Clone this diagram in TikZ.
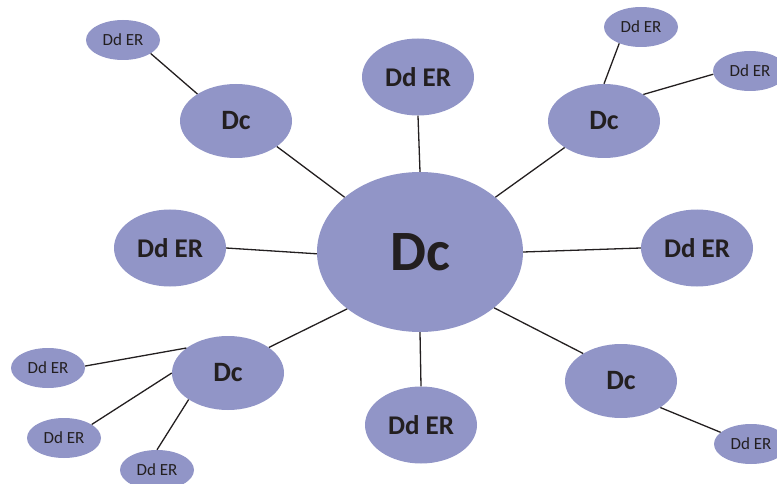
\documentclass[tikz,border=0pt]{standalone}
\usepackage{fontspec}
\setmainfont{Carlito}
\usetikzlibrary{shapes.geometric}
\definecolor{bubble}{RGB}{145,149,199}
\definecolor{ink}{RGB}{35,31,32}
\tikzset{
  bub/.style={ellipse, fill=bubble, draw=none, inner sep=0pt, text=ink},
  big/.style={bub, minimum width=206pt, minimum height=160pt, font=\bfseries\fontsize{57}{60}\selectfont},
  mid/.style={bub, minimum width=112pt, minimum height=74pt, font=\bfseries\fontsize{28}{30}\selectfont},
  midl/.style={bub, minimum width=112pt, minimum height=77pt, font=\bfseries\fontsize{27}{30}\selectfont},
  sml/.style={bub, minimum width=74pt, minimum height=40pt, font=\fontsize{17}{19}\selectfont},
  link/.style={draw=ink, line width=1.3pt}
}
\begin{document}
\begin{tikzpicture}[x=1pt,y=-1pt]
\useasboundingbox (0,0) rectangle (777,484);
% central
\node[big] (c) at (420,252) {Dc};
% first ring
\node[midl] (top) at (418,77) {Dd ER};
\node[midl] (left) at (170,248) {Dd ER};
\node[midl] (right) at (697,248) {Dd ER};
\node[midl] (bot) at (421,425) {Dd ER};
\node[mid] (tl) at (236,121) {Dc};
\node[mid] (tr) at (604,121) {Dc};
\node[mid] (bl) at (228,373) {Dc};
\node[mid] (br) at (621,381) {Dc};
% small
\node[sml] (s1) at (123,40) {Dd ER};
\node[sml] (s2) at (641,27) {Dd ER};
\node[sml] (s3) at (750,71) {Dd ER};
\node[sml] (s4) at (48,368) {Dd ER};
\node[sml] (s5) at (64,438) {Dd ER};
\node[sml] (s6) at (157,470) {Dd ER};
\node[sml] (s7) at (751,444) {Dd ER};
% connectors from centre
\draw[link] (c.90) -- (top.270);
\draw[link] (c.181) -- (left.0);
\draw[link] (c.0) -- (right.180);
\draw[link] (c.270) -- (bot.90);
\draw[link] (c.144) -- (tl.-32);
\draw[link] (c.36) -- (tr.214.7);
\draw[link] (c.218) -- (bl.32);
\draw[link] (c.323) -- (br.144);
% outer connectors
\draw[link] (tl.145) -- (s1.-26.6);
\draw[link] (tr.90) -- (s2.217);
\draw[link] (tr.34.7) -- (s3.185);
\draw[link] (bl.149) -- (s4.3);
\draw[link] (bl.180) -- (s5.26.6);
\draw[link] (bl.214) -- (s6.90);
\draw[link] (br.-34.4) -- (s7.159);
\end{tikzpicture}
\end{document}
